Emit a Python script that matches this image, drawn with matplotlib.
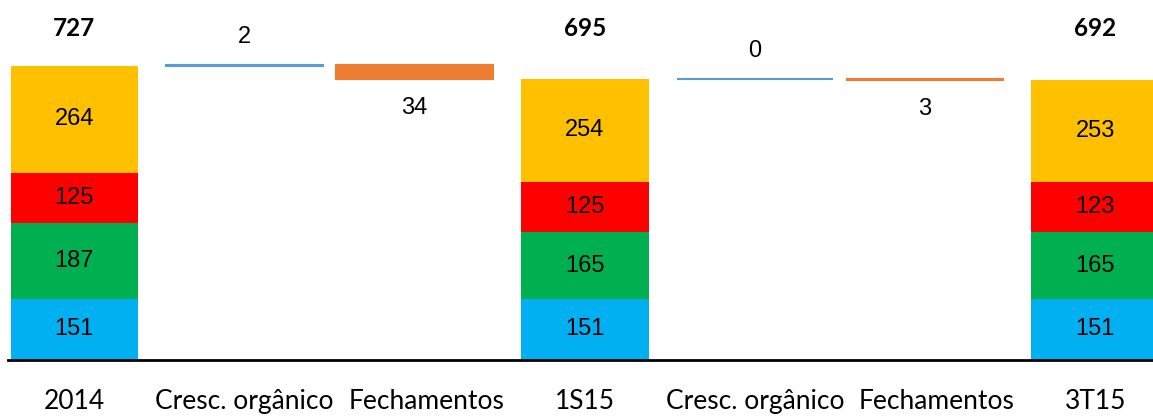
import numpy as np
import matplotlib.pyplot as plt
import matplotlib.patheffects as pe
from matplotlib.transforms import ScaledTranslation

# categories along the x axis
categories = ["2014", "Cresc. orgânico", "Fechamentos", "1S15",
              "Cresc. orgânico", "Fechamentos", "3T15"]

# stacked totals (bottom to top): blue, green, red, yellow
stack_pos = [0, 3, 6]
blue = [151, 151, 151]
green = [187, 165, 165]
red = [125, 125, 123]
yellow = [264, 254, 253]
totals = [727, 695, 692]

# waterfall steps between the totals
step_pos = [1, 2, 4, 5]
step_vals = [2, -34, 0, -3]

seg_colors = ["#00B0F0", "#00B050", "#FF0000", "#FFC000"]
up_color = "#5B9BD5"
down_color = "#ED7D31"

fig = plt.figure(figsize=(11.53, 4.17), dpi=100)
ax = fig.add_axes([8 / 1153, 1 - 360 / 417, 1 - 8 / 1153, 360 / 417])

# stacked bars
bottom = np.zeros(len(stack_pos))
for vals, col in zip([blue, green, red, yellow], seg_colors):
    vals = np.array(vals, dtype=float)
    ax.bar(stack_pos, vals, bottom=bottom, width=0.75, color=col, linewidth=0)
    for x, v, b in zip(stack_pos, vals, bottom):
        ax.text(x, b + v / 2, f"{int(v)}", ha="center", va="center",
                fontsize=17, family="Liberation Sans", color="black")
    bottom += vals

# totals sit on one common line above the chart
for x, t in zip(stack_pos, totals):
    ax.text(x, 0.922, f"{t}", transform=ax.get_xaxis_transform(),
            ha="center", va="center", fontsize=17.5, fontweight="bold",
            family="Lato")

# waterfall steps
level = totals[0]
for x, v in zip(step_pos, step_vals):
    if v >= 0:
        col = up_color
        b = level
        h = v
        fx = [pe.withSimplePatchShadow(offset=(2, -4), shadow_rgbFace="#9a9a9a", alpha=0.35)]
        ax.bar(x, max(h, 0.001), bottom=b, width=0.92, color=col,
               edgecolor=col, linewidth=1.5, path_effects=fx)
        ax.annotate(f"{v}", (x, b + h), xytext=(0, 20), textcoords="offset points",
                    ha="center", va="center", fontsize=17, family="Liberation Sans")
        level = level + v
    else:
        col = down_color
        b = level + v
        h = -v
        ax.bar(x, h, bottom=b, width=0.92, color=col, edgecolor=col, linewidth=1.5)
        ax.annotate(f"{-v}", (x, b), xytext=(0, -21), textcoords="offset points",
                    ha="center", va="center", fontsize=17, family="Liberation Sans")
        level = b
    if x == 2:
        level = totals[1]

ax.set_xlim(-0.39, 6.34)
ax.set_ylim(0, 890)
ax.set_xticks(range(len(categories)))
ax.set_xticklabels(categories, fontsize=19, family="Lato")
ax.tick_params(axis="x", length=0, pad=21)
# nudge the "Fechamentos" labels a little to the right, as in the original
for i, lab in enumerate(ax.get_xticklabels()):
    if categories[i] == "Fechamentos":
        lab.set_transform(lab.get_transform() + ScaledTranslation(0.12, 0, fig.dpi_scale_trans))
ax.set_yticks([])
for s in ["top", "right", "left"]:
    ax.spines[s].set_visible(False)
ax.spines["bottom"].set_linewidth(2)
ax.spines["bottom"].set_color("black")

fig.savefig("out.png", dpi=100)
